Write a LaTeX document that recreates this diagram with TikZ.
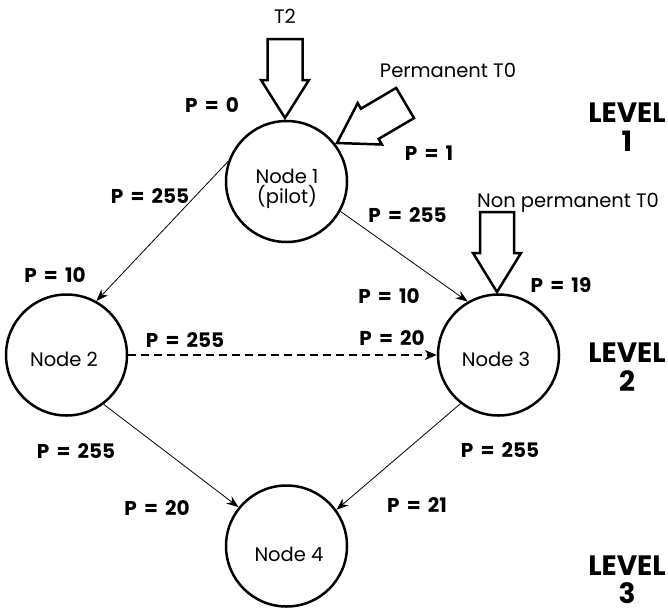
\documentclass[tikz,border=0pt]{standalone}
\usepackage{fontspec}
\setmainfont{Poppins}
\newfontfamily\plfont{Poppins}[WordSpace=1.7]
\usetikzlibrary{arrows.meta}
\tikzset{
  nodecirc/.style={circle, draw, line width=2.5pt, minimum size=121pt, inner sep=0pt},
  nodetxt/.style={anchor=base, inner sep=0pt, font=\fontsize{19.5pt}{14pt}\selectfont, align=center},
  plabel/.style={anchor=base, inner sep=0pt, font=\fontsize{20pt}{22pt}\plfont\bfseries},
  lvl/.style={anchor=base, inner sep=0pt, font=\fontsize{28pt}{30pt}\selectfont\bfseries},
  link/.style={line width=0.8pt, -{Stealth[length=12pt,width=9pt]}},
  dlink/.style={line width=2.5pt, dash pattern=on 8pt off 5pt, -{Stealth[length=12pt,width=10pt]}},
  blockarrow/.style={draw, line width=2.5pt, fill=white, line join=miter}
}
\begin{document}
\begin{tikzpicture}[x=1pt,y=-1pt]
\useasboundingbox (0,0) rectangle (668,613);

% nodes
\node[nodecirc] (n1) at (286.5,181.5) {};
\node[nodecirc] (n2) at (66.5,355) {};
\node[nodecirc] (n3) at (498.5,355) {};
\node[nodecirc] (n4) at (286.5,546) {};

\node[nodetxt] (n1t) at (287,203) {Node 1\\(pilot)};
\node[nodetxt] (n2t) at (64,366) {Node 2};
\node[nodetxt] (n3t) at (496,366) {Node 3};
\node[nodetxt] (n4t) at (289,561) {Node 4};

% connectors
\draw[link] (n1.161) -- (n2.61);
\draw[link] (n1.-29) -- (n3.120);
\draw[link] (n2.-53) -- (n4.141.5);
\draw[link] (n3.232) -- (n4.36.5);
\draw[dlink] (n2.east) -- (n3.west);

% block arrows
\draw[blockarrow] (285,118) -- (261,80) -- (267.5,80) -- (267.5,39) -- (302.5,39) -- (302.5,80) -- (309,80) -- cycle;
\draw[blockarrow] (337,143) -- (381.9,144.5) -- (378.7,138.9) -- (414,118.1) -- (396.2,87.9) -- (360.9,108.7) -- (357.7,103.1) -- cycle;
\draw[blockarrow] (497,292) -- (473,253) -- (480,253) -- (480,212) -- (514,212) -- (514,253) -- (521,253) -- cycle;

% arrow labels
\node[nodetxt] (t2) at (285,23) {T2};
\node[nodetxt] (pt0) at (448,77) {Permanent T0};
\node[nodetxt] (npt0) at (568,207) {Non permanent T0};

% priority labels
\node[plabel] (p0) at (212,112) {P = 0};
\node[plabel] (p1) at (429,160) {P = 1};
\node[plabel] (pa) at (150,203) {P = 255};
\node[plabel] (pb) at (55,282) {P = 10};
\node[plabel] (pc) at (407.5,222) {P = 255};
\node[plabel] (pd) at (389,303) {P = 10};
\node[plabel] (pe) at (561,292) {P = 19};
\node[plabel] (pf) at (392,345) {P = 20};
\node[plabel] (pg) at (185,347) {P = 255};
\node[plabel] (ph) at (76,458) {P = 255};
\node[plabel] (pi) at (157,515) {P = 20};
\node[plabel] (pj) at (500,457) {P = 255};
\node[plabel] (pk) at (417,512) {P = 21};

% levels
\node[lvl] (l1a) at (627,122) {LEVEL};
\node[lvl] (l1b) at (627,151) {1};
\node[lvl] (l2a) at (627,362) {LEVEL};
\node[lvl] (l2b) at (627,391) {2};
\node[lvl] (l3a) at (627,575) {LEVEL};
\node[lvl] (l3b) at (627,603) {3};
\end{tikzpicture}
\end{document}
